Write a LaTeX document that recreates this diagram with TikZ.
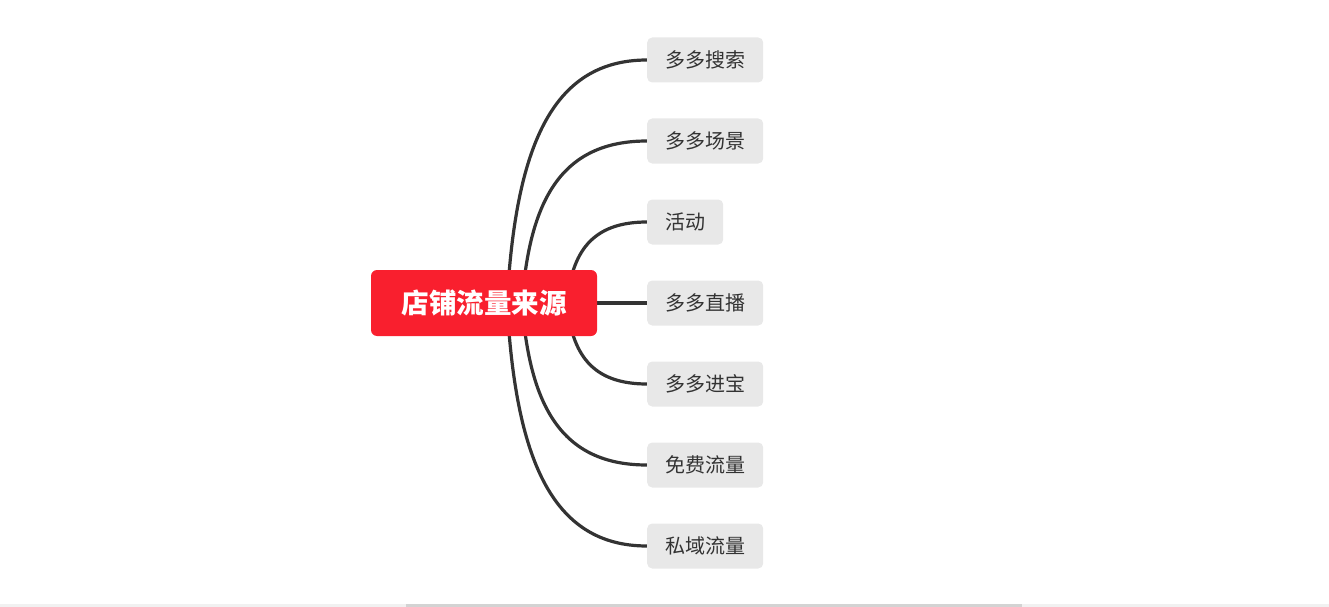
\documentclass[tikz,border=0pt]{standalone}
\usepackage{fontspec}
\setmainfont{Noto Sans CJK SC}
\newfontfamily\cjk{Noto Sans CJK SC}
\usetikzlibrary{backgrounds}
\definecolor{rootred}{HTML}{F91F2E}
\definecolor{leafgray}{HTML}{E8E8E8}
\definecolor{linegray}{HTML}{333333}
\definecolor{bartrack}{HTML}{F1F1F1}
\definecolor{barthumb}{HTML}{D3D3D3}
\tikzset{
  rootbox/.style={fill=rootred, rounded corners=6pt, minimum width=226pt, minimum height=66pt,
    inner sep=0pt, text=white, text height=24.2pt, text depth=3.3pt,
    font=\cjk\bfseries\fontsize{27.5}{32}\selectfont},
  leafbox/.style={fill=leafgray, rounded corners=5pt, minimum height=45pt, inner xsep=18pt,
    inner ysep=0pt, anchor=west, text=linegray, text height=17.6pt, text depth=2.4pt,
    font=\cjk\fontsize{20}{24}\selectfont},
  conn/.style={draw=linegray, line width=3.2pt},
}
\begin{document}
\begin{tikzpicture}[x=1pt,y=-1pt]
\useasboundingbox (0,0) rectangle (1329,607);
\fill[bartrack] (0,604) rectangle (1329,607);
\fill[barthumb] (406,604) rectangle (1022,607);
\node[rootbox] (c) at (484,303) {店铺流量来源};
\node[leafbox] (n1) at (647,60) {多多搜索};
\node[leafbox] (n2) at (647,141) {多多场景};
\node[leafbox] (n3) at (647,222) {活动};
\node[leafbox] (n4) at (647,303) {多多直播};
\node[leafbox] (n5) at (647,384) {多多进宝};
\node[leafbox] (n6) at (647,465) {免费流量};
\node[leafbox] (n7) at (647,546) {私域流量};
\begin{scope}[on background layer]
\foreach \n/\yc/\xz in {n1/60/507, n2/141/522, n3/222/567, n5/384/567, n6/465/522, n7/546/507}{
  \pgfmathsetmacro\w{647-\xz}
  \pgfmathsetmacro\dy{303-\yc}
  \coordinate (s\n) at (\xz,303);
  \draw[conn] (s\n) .. controls +({0.06*\w},{-0.63*\dy}) and +({-0.69*\w},0) .. (\n.west);
}
\draw[conn] (c.east) -- (n4.west);
\end{scope}
\end{tikzpicture}
\end{document}
